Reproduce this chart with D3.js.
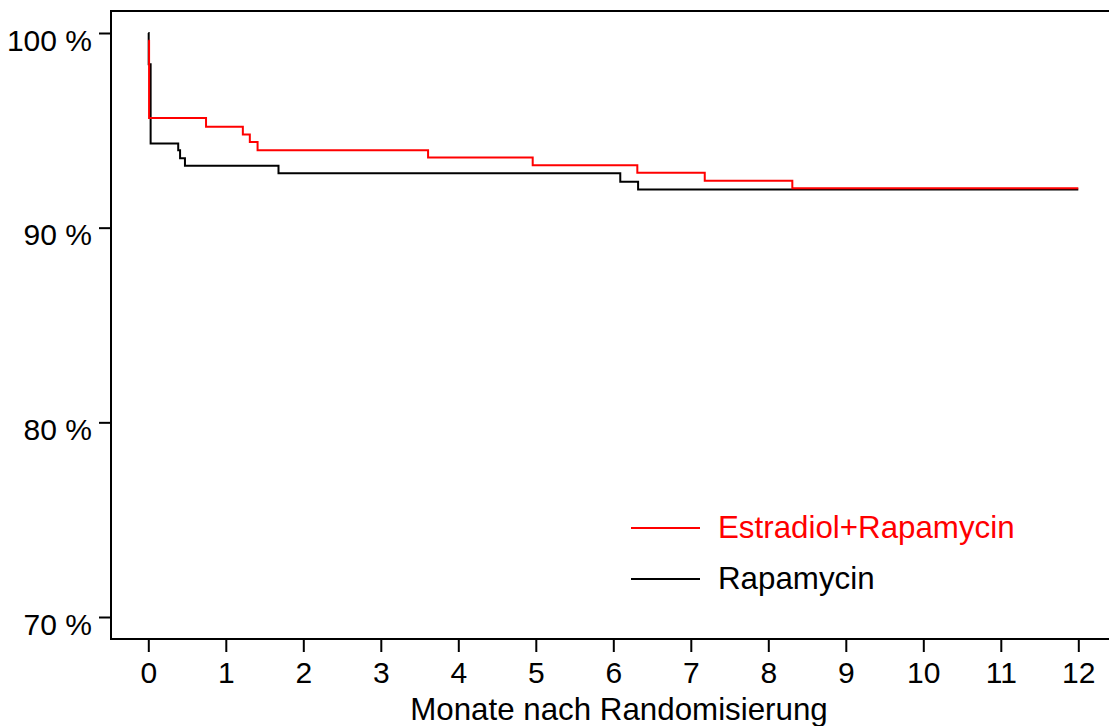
<!DOCTYPE html>
<html>
<head>
<meta charset="utf-8">
<script src="https://cdn.jsdelivr.net/npm/d3@7"></script>
<style>
  body { margin: 0; background: #fff; }
  text { font-family: "Liberation Sans", Arial, sans-serif; }
</style>
</head>
<body>
<div id="vis"></div>
<script>
var width = 1109
var height = 726

// Kaplan-Meier steps (months, survival %)
var estTimes = [0, 0.01, 0.745, 1.22, 1.31, 1.41, 3.61, 4.96, 6.31, 7.18, 8.31, 12]
var estValues = [99.6, 95.63, 95.18, 94.79, 94.40, 93.98, 93.60, 93.21, 92.82, 92.41, 92.02, 92.02]

var rapTimes = [0, 0.005, 0.03, 0.386, 0.41, 0.473, 1.68, 6.09, 6.32, 12]
var rapValues = [100, 98.4, 94.33, 93.98, 93.56, 93.18, 92.79, 92.36, 91.96, 91.96]

var xTicks = [0, 1, 2, 3, 4, 5, 6, 7, 8, 9, 10, 11, 12]
var yTicks = [70, 80, 90, 100]
var seriesNames = ["Estradiol+Rapamycin", "Rapamycin"]
var seriesColors = ["#ff0000", "#000000"]

var svg = d3.select("#vis")
  .append("svg")
  .attr("width", width)
  .attr("height", height)
  .style("display", "block")

var frame = {left: 111, top: 11, right: 1110, bottom: 639}

var x = d3.scaleLinear().domain([0, 12]).range([148.3, 1078.3])
var y = d3.scaleLinear().domain([70, 100]).range([617, 33])

// frame
svg.append("rect")
  .attr("x", frame.left)
  .attr("y", frame.top)
  .attr("width", frame.right - frame.left)
  .attr("height", frame.bottom - frame.top)
  .attr("fill", "none")
  .attr("stroke", "#000")
  .attr("stroke-width", 2)

// x axis
var xAxis = d3.axisBottom(x).tickValues(xTicks).tickSize(13).tickPadding(10).tickSizeOuter(0)
var gx = svg.append("g")
  .attr("transform", `translate(0,${frame.bottom})`)
  .call(xAxis)
gx.select(".domain").remove()
gx.selectAll("line").attr("stroke-width", 2)
gx.selectAll("text")
  .attr("font-size", 30)
  .attr("fill", "#000")
  .attr("font-family", "Liberation Sans, Arial, sans-serif")

// y axis
var yAxis = d3.axisLeft(y).tickValues(yTicks).tickSize(12).tickPadding(8)
  .tickFormat(d => d + " %")
var gy = svg.append("g")
  .attr("transform", `translate(${frame.left},0)`)
  .call(yAxis)
gy.select(".domain").remove()
gy.selectAll("line").attr("stroke-width", 2)
gy.selectAll("text")
  .attr("font-size", 30)
  .attr("fill", "#000")
  .attr("dy", "0.57em")
  .attr("x", -19)
  .attr("font-family", "Liberation Sans, Arial, sans-serif")

// x label
svg.append("text")
  .attr("x", 619)
  .attr("y", 720)
  .attr("text-anchor", "middle")
  .attr("font-size", 31.3)
  .attr("fill", "#000")
  .text("Monate nach Randomisierung")

// curves
var line = d3.line()
  .x(d => x(d[0]))
  .y(d => y(d[1]))
  .curve(d3.curveStepAfter)

var rapData = d3.zip(rapTimes, rapValues)
var estData = d3.zip(estTimes, estValues)

svg.append("path")
  .datum(rapData)
  .attr("d", line)
  .attr("fill", "none")
  .attr("stroke", seriesColors[1])
  .attr("stroke-width", 2)

svg.append("path")
  .datum(estData)
  .attr("d", line)
  .attr("fill", "none")
  .attr("stroke", seriesColors[0])
  .attr("stroke-width", 2)

// legend
var legend = svg.append("g")
seriesNames.forEach(function(name, i) {
  var ly = 528 + i * 51
  legend.append("line")
    .attr("x1", 631).attr("x2", 700)
    .attr("y1", ly).attr("y2", ly)
    .attr("stroke", seriesColors[i])
    .attr("stroke-width", 2)
  legend.append("text")
    .attr("x", 718)
    .attr("y", ly + 10)
    .attr("font-size", 31.3)
    .attr("fill", seriesColors[i])
    .text(name)
})
</script>
</body>
</html>
